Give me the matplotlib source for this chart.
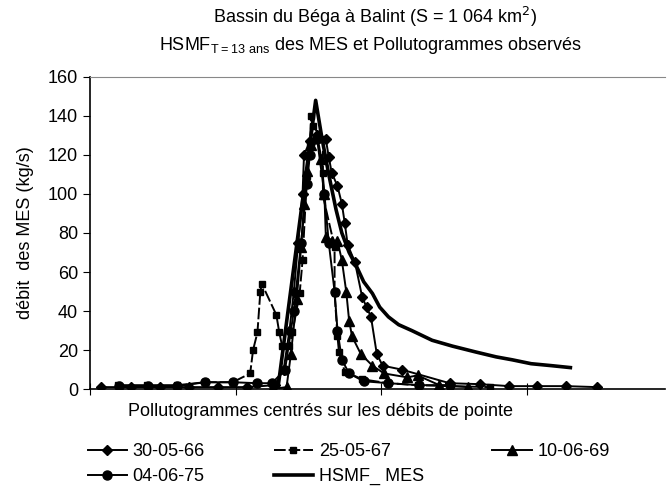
import numpy as np
import matplotlib.pyplot as plt

plt.rcParams['font.family'] = ['Liberation Sans', 'DejaVu Sans']

# données (x : pas de temps, centrés sur la pointe)
x_66 = [0.75, 2.8, 4.8, 6.8, 8.8, 10.8, 12.7, 13.3, 13.7, 14.0, 14.3, 14.6, 14.7,
        15.1, 15.6, 16.2, 16.4, 16.6, 17.0, 17.3, 17.5, 17.7, 18.2, 18.7, 19.0,
        19.3, 19.7, 20.1, 21.4, 24.7, 26.8, 28.8, 30.7, 32.7, 34.8]
y_66 = [1, 1, 1, 1, 1, 1, 2, 10, 30, 50, 75, 100, 120,
        127, 130, 128, 119, 111, 104, 95, 85, 74, 65, 47, 42,
        37, 18, 12, 10, 3, 2.5, 1.5, 1.5, 1.5, 1]

x_67 = [1.9, 3.9, 6.0, 7.9, 9.8, 11.0, 11.2, 11.5, 11.7, 11.8, 12.8, 13.0, 13.2,
        13.7, 13.9, 14.4, 14.6, 14.9, 15.1, 15.2, 15.3, 16.0, 16.0, 16.0, 16.8,
        16.8, 17.0, 17.1, 17.5, 18.7, 20.5, 22.5, 24.7, 27.5]
y_67 = [2, 2, 2, 3.5, 3.5, 8, 20, 29, 50, 54, 38, 29, 22,
        22, 29, 49, 66, 109, 126, 140, 135, 128, 111, 99, 73,
        49, 27, 19, 9, 5, 3, 2, 1.5, 1]

x_69 = [12.5, 13.5, 13.8, 14.2, 14.5, 14.7, 14.9, 15.2, 15.6, 15.9, 16.1, 16.2,
        16.6, 17.0, 17.3, 17.6, 17.8, 18.0, 18.6, 19.4, 20.2, 21.8, 22.5, 24.0,
        26.0]
y_69 = [0, 1, 18, 46, 73, 95, 112, 125, 130, 118, 100, 78,
        76, 76, 66, 50, 35, 27, 18, 12, 8, 6, 7, 2,
        1]

x_75 = [2.0, 4.0, 6.0, 7.9, 9.8, 11.5, 12.5, 13.4, 14.0, 14.5, 14.9, 15.1,
        15.6, 16.1, 16.4, 16.8, 17.0, 17.3, 17.8, 18.8, 20.5, 22.6, 24.7]
y_75 = [1.5, 1.5, 1.5, 3.5, 3.5, 3, 3, 10, 40, 75, 105, 120,
        128, 100, 75, 50, 30, 15, 8, 4, 3, 2, 2]

x_hsmf = [12.9, 15.5, 15.9, 16.4, 16.9, 17.3, 17.8, 18.3, 18.8, 19.4, 19.9,
          20.5, 21.2, 22.1, 23.5, 24.9, 26.5, 27.9, 29.0, 30.3, 31.7, 33.0]
y_hsmf = [0, 148, 130, 110, 92, 80, 70, 63, 55, 49, 42,
          37, 33, 30, 25, 22, 19, 16.5, 15, 13, 12, 11]

fig = plt.figure(figsize=(6.67, 4.9), dpi=100)
ax = fig.add_axes([0.135, 0.206, 0.862, 0.637])

l66, = ax.plot(x_66, y_66, color='black', lw=1.4, marker='D', ms=5.5, label='30-05-66')
l67, = ax.plot(x_67, y_67, color='black', lw=1.4, ls=(0, (6, 1.5)), marker='s', ms=5,
               label='25-05-67')
l69, = ax.plot(x_69, y_69, color='black', lw=1.4, marker='^', ms=7.5, label='10-06-69')
l75, = ax.plot(x_75, y_75, color='black', lw=1.4, marker='o', ms=6.5, label='04-06-75')
lh, = ax.plot(x_hsmf, y_hsmf, color='black', lw=2.6, label='HSMF_ MES')

ax.set_xlim(0, 39.5)
ax.set_ylim(0, 160)
ax.set_yticks(np.arange(0, 161, 20))
ax.set_xticks([0, 10, 20, 30])
ax.set_xticklabels([])
ax.tick_params(axis='y', direction='out', length=5, labelsize=13)
ax.tick_params(axis='x', direction='inout', length=8)
ax.spines['right'].set_visible(False)
ax.spines['top'].set_color('#888888')
ax.spines['top'].set_linestyle((0, (2, 1)))
ax.spines['top'].set_linewidth(0.8)
ax.spines['left'].set_linewidth(1.2)
ax.spines['bottom'].set_linewidth(1.2)

ax.set_ylabel('débit  des MES (kg/s)', fontsize=13, labelpad=10)
ax.set_xlabel('Pollutogrammes centrés sur les débits de pointe', fontsize=13)
ax.xaxis.set_label_coords(0.40, -0.045)
ax.xaxis.label.set_va('top')

fig.text(0.562, 0.965, 'Bassin du Béga à Balint (S = 1 064 km$^2$)',
         ha='center', va='center', fontsize=13)
fig.text(0.555, 0.908, r'HSMF$_{\mathregular{T = 13\ ans}}$ des MES et Pollutogrammes observés',
         ha='center', va='center', fontsize=13)

# ordre lignes : 66, 67, 69 / 75, HSMF
handles = [l66, l75, l67, lh, l69]
fig.legend(handles=handles, labels=[h.get_label() for h in handles],
           loc='lower left', bbox_to_anchor=(0.115, -0.012), ncol=3, frameon=False,
           fontsize=13, handlelength=2.2, handletextpad=0.3, columnspacing=3.8,
           labelspacing=0.43, borderaxespad=0.2)

fig.savefig('out.png', dpi=100)
